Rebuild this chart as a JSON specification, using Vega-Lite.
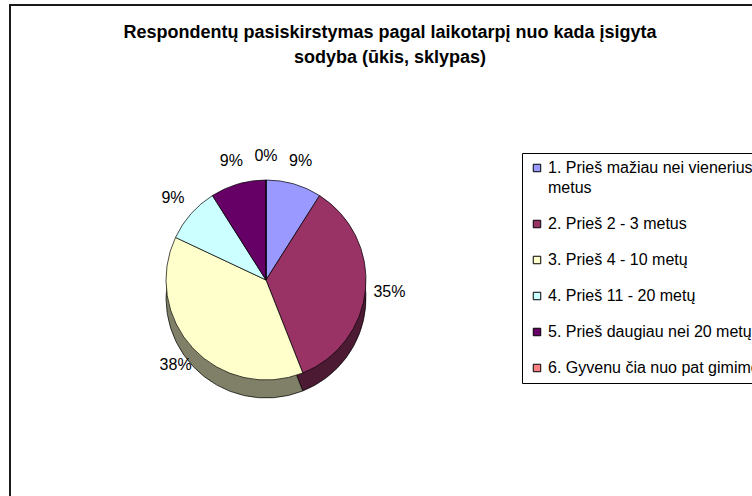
{
  "$schema": "https://vega.github.io/schema/vega-lite/v6.json",
  "width": 760,
  "height": 500,
  "autosize": {"type": "none"},
  "padding": {"left": 10, "top": 5, "right": 0, "bottom": 0},
  "background": "white",
  "config": {
    "view": {"stroke": null},
    "font": "Liberation Sans"
  },
  "title": {
    "text": ["Respondentų pasiskirstymas pagal laikotarpį nuo kada įsigyta", "sodyba (ūkis, sklypas)"],
    "anchor": "middle",
    "frame": "group",
    "orient": "top",
    "baseline": "top",
    "dx": 0,
    "dy": 63,
    "offset": 0,
    "font": "Liberation Sans",
    "fontSize": 18,
    "fontWeight": "bold",
    "color": "black",
    "lineHeight": 25
  },
  "data": {
    "values": [
      {"id": 1, "category": "1. Prieš mažiau nei vienerius metus", "share": 0.09},
      {"id": 2, "category": "2. Prieš 2 - 3 metus", "share": 0.35},
      {"id": 3, "category": "3. Prieš 4 - 10 metų", "share": 0.38},
      {"id": 4, "category": "4. Prieš 11 - 20 metų", "share": 0.09},
      {"id": 5, "category": "5. Prieš daugiau nei 20 metų", "share": 0.09},
      {"id": 6, "category": "6. Gyvenu čia nuo pat gimimo", "share": 0.0}
    ]
  },
  "layer": [
    {
      "data": {"values": [{"frame": "chart"}]},
      "mark": {"type": "rect", "fill": null, "stroke": "#1a1a1a", "strokeWidth": 2, "x": 0, "y": 0, "x2": {"expr": "width"}, "y2": {"expr": "height"}},
      "encoding": {}
    },
    {
      "mark": {"type": "arc", "outerRadius": 100, "x": 256, "y": 293, "stroke": "black", "strokeWidth": 0.7},
      "encoding": {
        "theta": {"field": "share", "type": "quantitative", "stack": true},
        "order": {"field": "id", "type": "quantitative", "sort": "ascending"},
        "color": {
          "field": "category",
          "type": "nominal",
          "sort": null,
          "scale": {"range": ["#4C4C80", "#4C1A33", "#808068", "#668080", "#330033", "#804040"]},
          "legend": null
        }
      }
    },
    {
      "mark": {"type": "arc", "outerRadius": 100, "x": 256, "y": 275, "stroke": "black", "strokeWidth": 0.7},
      "encoding": {
        "theta": {"field": "share", "type": "quantitative", "stack": true},
        "order": {"field": "id", "type": "quantitative", "sort": "ascending"},
        "color": {
          "field": "category",
          "type": "nominal",
          "sort": null,
          "scale": {"range": ["#9999FF", "#993366", "#FFFFCC", "#CCFFFF", "#660066", "#FF8080"]},
          "legend": {
            "title": null,
            "orient": "none",
            "legendX": 512,
            "legendY": 148,
            "direction": "vertical",
            "strokeColor": "black",
            "fillColor": "white",
            "padding": 7,
            "symbolType": "square",
            "symbolSize": 56,
            "symbolStrokeColor": "black",
            "symbolStrokeWidth": 1,
            "labelFont": "Liberation Sans",
            "labelFontSize": 16,
            "labelColor": "black",
            "labelLimit": 400,
            "labelOffset": 3,
            "labelBaseline": "top",
            "clipHeight": 16,
            "rowPadding": 20,
            "labelExpr": "datum.label == '1. Prieš mažiau nei vienerius metus' ? ['1. Prieš mažiau nei vienerius', 'metus'] : datum.label",
            "encode": {
              "labels": {"update": {"lineHeight": {"value": 20}, "dy": {"value": -8}}}
            }
          }
        }
      }
    },
    {
      "mark": {"type": "text", "radius": 124, "x": 256, "y": 275, "font": "Liberation Sans", "fontSize": 16, "color": "black"},
      "encoding": {
        "theta": {"field": "share", "type": "quantitative", "stack": true},
        "order": {"field": "id", "type": "quantitative", "sort": "ascending"},
        "text": {"field": "share", "type": "quantitative", "format": ".0%"}
      }
    }
  ],
  "resolve": {"scale": {"color": "independent"}, "legend": {"color": "independent"}}
}
